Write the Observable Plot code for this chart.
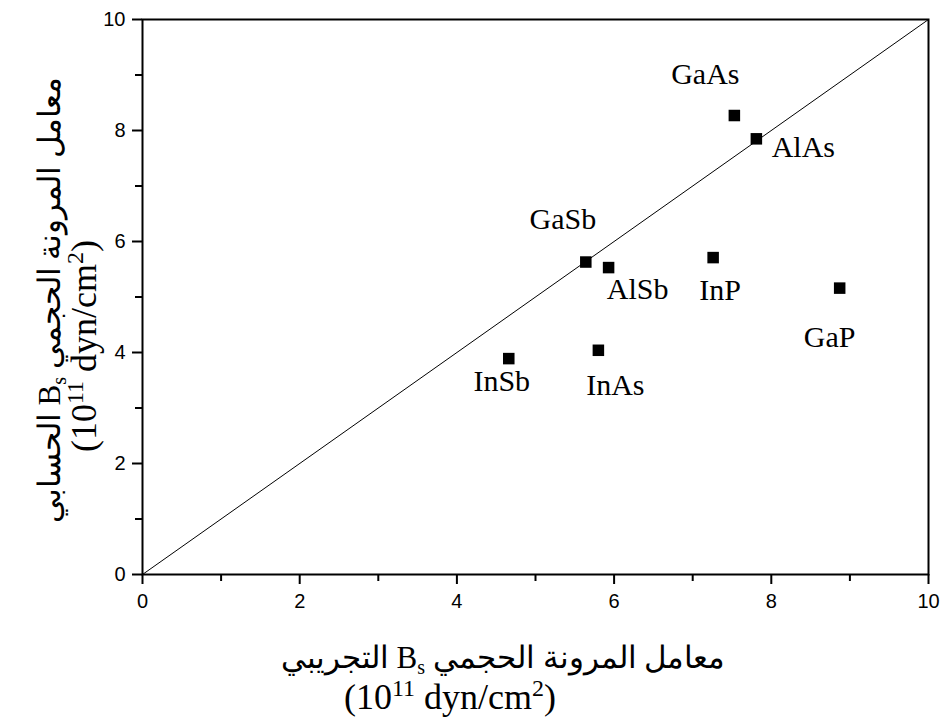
<!DOCTYPE html>
<html>
<head>
<meta charset="utf-8">
<script src="https://cdn.jsdelivr.net/npm/d3@7"></script>
<script src="https://cdn.jsdelivr.net/npm/@observablehq/plot@0.6"></script>
<style>
  html, body { margin: 0; padding: 0; background: white; }
  svg { display: block; }
</style>
</head>
<body>
<div id="chart"></div>
<script>
// ---- data ----
const compounds    = ["GaAs", "AlAs", "GaSb", "AlSb", "InP", "GaP", "InAs", "InSb"];
const experimental = [7.53, 7.81, 5.64, 5.93, 7.26, 8.87, 5.80, 4.66];
const calculated   = [8.27, 7.85, 5.63, 5.53, 5.71, 5.16, 4.04, 3.89];
const majorTicks   = [0, 2, 4, 6, 8, 10];
const minorTicks   = [1, 3, 5, 7, 9];
const identityLine = [0, 10];

// axis title texts
const xTitleLeft  = "التجريبي B";
const yTitleLeft  = "الحسابي B";
const titleSub    = "s";
const titleRight  = " معامل المرونة الحجمي";
const unitParts   = ["(10", "11", " dyn/cm", "2", ")"];

// ---- layout (not data) ----
const labelOffsets = {
  GaAs: [-29, -41], AlAs: [47, 9], GaSb: [-23, -43], AlSb: [29, 22],
  InP: [7, 33], GaP: [-10, 49], InAs: [17, 35], InSb: [-7, 23]
};
const serif = "'Liberation Serif', 'Times New Roman', Times, serif";

const points = compounds.map((c, i) => ({name: c, x: experimental[i], y: calculated[i]}));
const diag = identityLine.map(v => ({v}));

const axisCommon = {label: null, stroke: "black", strokeWidth: 2, fontSize: 20};

const chart = Plot.plot({
  width: 941,
  height: 722,
  marginLeft: 142,
  marginRight: 13,
  marginTop: 19,
  marginBottom: 148,
  x: {domain: [0, 10]},
  y: {domain: [0, 10]},
  style: {
    fontFamily: "'Liberation Sans', Arial, Helvetica, sans-serif",
    fontSize: "20px",
    background: "white",
    color: "black",
    overflow: "visible"
  },
  marks: [
    Plot.line(diag, {x: "v", y: "v", stroke: "black", strokeWidth: 1}),
    Plot.axisX({...axisCommon, ticks: majorTicks, tickSize: 10, tickPadding: 9}),
    Plot.axisX({...axisCommon, ticks: minorTicks, tickSize: 7, tickFormat: () => ""}),
    Plot.axisY({...axisCommon, ticks: majorTicks, tickSize: 10, tickPadding: 7}),
    Plot.axisY({...axisCommon, ticks: minorTicks, tickSize: 7, tickFormat: () => ""}),
    Plot.frame({stroke: "black", strokeWidth: 2}),
    Plot.dot(points, {x: "x", y: "y", symbol: "square", r: 6.5, fill: "black", stroke: null}),
    ...points.map(p => Plot.text([p], {
      x: "x", y: "y", text: "name",
      dx: labelOffsets[p.name][0], dy: labelOffsets[p.name][1],
      fontFamily: serif, fontSize: 30, fill: "black"
    }))
  ]
});

document.getElementById("chart").appendChild(chart);

// ---- axis titles (text with sub/superscripts) ----
const svg = d3.select(chart);

function titleLine1(g, leftPart) {
  const t = g.append("text")
    .attr("text-anchor", "middle")
    .attr("font-family", serif)
    .attr("font-size", 31)
    .attr("fill", "black");
  t.append("tspan").text(leftPart);
  t.append("tspan").attr("font-size", 20).attr("dy", 6).text(titleSub);
  t.append("tspan").attr("dy", -6).text(titleRight);
}
function titleLine2(g) {
  const t = g.append("text")
    .attr("text-anchor", "middle")
    .attr("font-family", serif)
    .attr("font-size", 36)
    .attr("fill", "black");
  t.append("tspan").text(unitParts[0]);
  t.append("tspan").attr("font-size", 24).attr("dy", -13).text(unitParts[1]);
  t.append("tspan").attr("dy", 13).text(unitParts[2]);
  t.append("tspan").attr("font-size", 24).attr("dy", -13).text(unitParts[3]);
  t.append("tspan").attr("dy", 13).text(unitParts[4]);
}

titleLine1(svg.append("g").attr("transform", "translate(503,668)"), xTitleLeft);
titleLine2(svg.append("g").attr("transform", "translate(450,709)"));
titleLine1(svg.append("g").attr("transform", "translate(60,300) rotate(-90)"), yTitleLeft);
titleLine2(svg.append("g").attr("transform", "translate(96,346) rotate(-90)"));
</script>
</body>
</html>
